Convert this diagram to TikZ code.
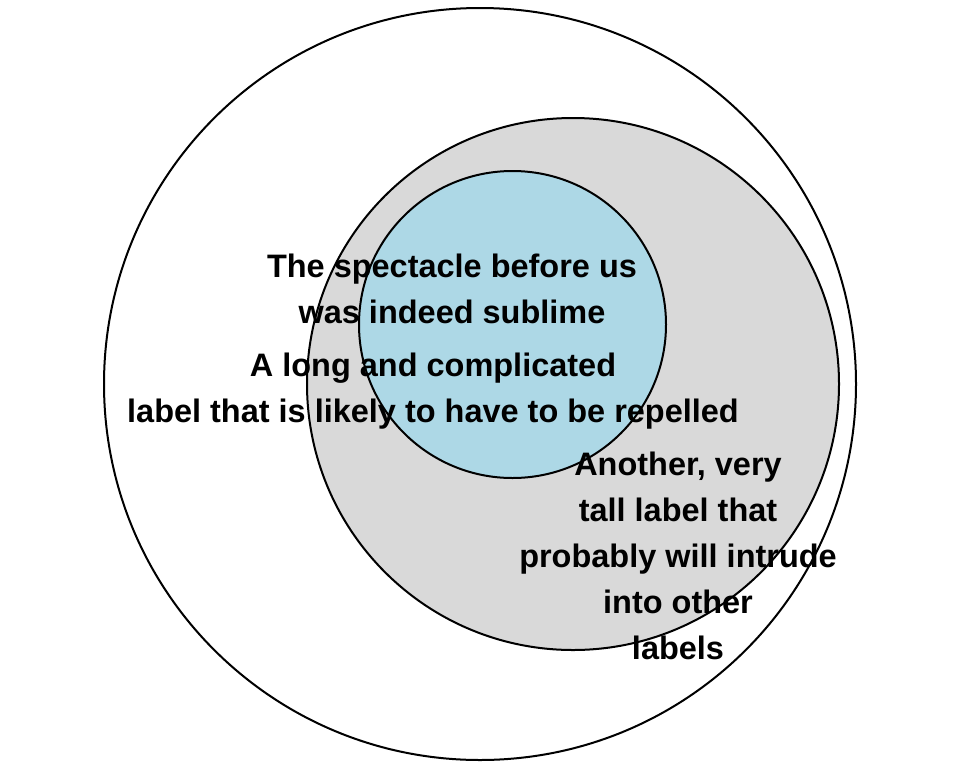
\documentclass[tikz,border=0pt]{standalone}
\usepackage{fontspec}
\setmainfont{Liberation Sans}
\usetikzlibrary{positioning}
\definecolor{setgray}{HTML}{D9D9D9}
\definecolor{setblue}{HTML}{ADD8E6}
\tikzset{
	venn/.style={circle, draw=black, line width=1.5pt, inner sep=0pt},
	lbl/.style={align=center, font=\bfseries\fontsize{24.35}{34.5}\selectfont, inner sep=0pt}
}
\begin{document}
\begin{tikzpicture}
[x=0.75pt, y=-0.75pt]
\useasboundingbox (0,0) rectangle (960,768);
% sets
\node[venn, fill=white, minimum size=564pt] (outer) at (480,384) {};
\node[venn, fill=setgray, minimum size=399pt] (mid) at (573,384) {};
\node[venn, fill=setblue, minimum size=230.25pt] (inner) at (512.5,324.5) {};
% labels
\node[lbl] (spectacle) at (452,289) {The spectacle before us\\was indeed sublime};
\node[lbl] (long) at (433,391) {A long and complicated\\label that is likely to have to be repelled};
\node[lbl] (tall) at (678,555.5) {Another, very\\tall label that\\probably will intrude\\into other\\labels};
\end{tikzpicture}
\end{document}
